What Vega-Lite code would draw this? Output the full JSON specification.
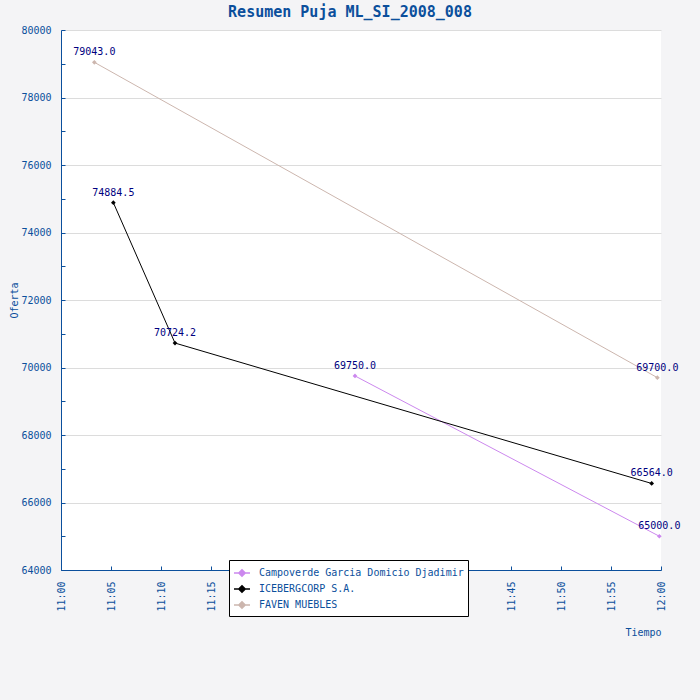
{
  "$schema": "https://vega.github.io/schema/vega-lite/v6.json",
  "width": 600,
  "height": 540,
  "autosize": {"type": "none"},
  "padding": {"left": 61, "top": 30, "right": 39, "bottom": 130},
  "background": "#f4f4f6",
  "title": {
    "text": "Resumen Puja ML_SI_2008_008",
    "font": "DejaVu Sans Mono",
    "fontSize": 15,
    "fontWeight": "bold",
    "color": "#0b4f9c",
    "anchor": "middle",
    "dx": -11,
    "offset": 5
  },
  "data": {
    "values": [
      {"postor": "Campoverde Garcia Domicio Djadimir", "hora": "2008-01-01T11:29:24", "oferta": 69750},
      {"postor": "Campoverde Garcia Domicio Djadimir", "hora": "2008-01-01T11:59:50", "oferta": 65000},
      {"postor": "ICEBERGCORP S.A.", "hora": "2008-01-01T11:05:14", "oferta": 74884.5},
      {"postor": "ICEBERGCORP S.A.", "hora": "2008-01-01T11:11:24", "oferta": 70724.2},
      {"postor": "ICEBERGCORP S.A.", "hora": "2008-01-01T11:59:04", "oferta": 66564},
      {"postor": "FAVEN MUEBLES", "hora": "2008-01-01T11:03:20", "oferta": 79043},
      {"postor": "FAVEN MUEBLES", "hora": "2008-01-01T11:59:38", "oferta": 69700}
    ]
  },
  "encoding": {
    "x": {
      "field": "hora",
      "type": "temporal",
      "scale": {
        "domain": [
          {"year": 2008, "month": 1, "date": 1, "hours": 11, "minutes": 0},
          {"year": 2008, "month": 1, "date": 1, "hours": 12, "minutes": 0}
        ]
      },
      "axis": {
        "title": "Tiempo",
        "titleAnchor": "end",
        "titleFontWeight": "normal",
        "titleFontSize": 10,
        "titleColor": "#0b4f9c",
        "titlePadding": 16,
        "tickCount": "minute",
        "labelExpr": "minutes(datum.value) % 5 === 0 ? timeFormat(datum.value, '%H:%M') : ''",
        "labelAngle": 270,
        "labelAlign": "right",
        "labelBaseline": "middle",
        "labelPadding": 15,
        "labelFontSize": 10,
        "labelColor": "#0b4f9c",
        "labelOverlap": false,
        "domainColor": "#0b4f9c",
        "tickColor": "#0b4f9c",
        "tickSize": -4,
        "grid": false
      }
    },
    "y": {
      "field": "oferta",
      "type": "quantitative",
      "scale": {"domain": [64000, 80000], "nice": false, "zero": false},
      "axis": {
        "title": "Oferta",
        "titleFontWeight": "normal",
        "titleFontSize": 10,
        "titleColor": "#0b4f9c",
        "titlePadding": 1,
        "values": [64000, 65000, 66000, 67000, 68000, 69000, 70000, 71000, 72000, 73000, 74000, 75000, 76000, 77000, 78000, 79000, 80000],
        "labelExpr": "datum.value % 2000 === 0 ? format(datum.value, 'd') : ''",
        "labelPadding": 14,
        "labelFontSize": 10,
        "labelColor": "#0b4f9c",
        "domainColor": "#0b4f9c",
        "tickColor": "#0b4f9c",
        "tickSize": -4,
        "grid": true,
        "gridColor": "#dcdcdc",
        "gridOpacity": {"condition": {"test": "datum.value % 2000 === 0", "value": 1}, "value": 0}
      }
    }
  },
  "layer": [
    {
      "mark": {"type": "line", "strokeWidth": 1},
      "encoding": {
        "color": {
          "field": "postor",
          "type": "nominal",
          "scale": {
            "domain": ["Campoverde Garcia Domicio Djadimir", "ICEBERGCORP S.A.", "FAVEN MUEBLES"],
            "range": ["#cc88ee", "#000000", "#ccb6ae"]
          },
          "legend": {
            "title": null,
            "orient": "none",
            "legendX": 168,
            "legendY": 530,
            "fillColor": "white",
            "strokeColor": "black",
            "padding": 4,
            "labelFontSize": 10,
            "labelColor": "#0b4f9c",
            "labelLimit": 400,
            "labelOffset": 8,
            "rowPadding": 0,
            "symbolType": "M-1,0H1M0,-0.4L0.4,0L0,0.4L-0.4,0Z",
            "symbolSize": 256,
            "symbolStrokeWidth": 1.5
          }
        }
      }
    },
    {
      "mark": {"type": "point", "shape": "diamond", "filled": true, "size": 22, "opacity": 1},
      "encoding": {
        "color": {"field": "postor", "type": "nominal", "legend": null}
      }
    },
    {
      "mark": {"type": "text", "dy": -10, "fontSize": 10, "color": "#000080"},
      "encoding": {
        "text": {"field": "oferta", "type": "quantitative", "format": ".1f"}
      }
    }
  ],
  "config": {
    "font": "DejaVu Sans Mono",
    "view": {"stroke": null, "fill": "white"}
  }
}
